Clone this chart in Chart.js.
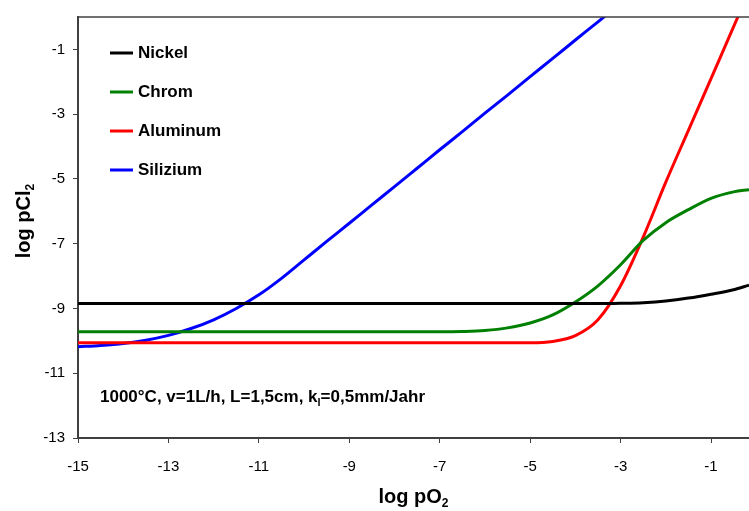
<!DOCTYPE html>
<html>
<head>
<meta charset="utf-8">
<script src="https://cdn.jsdelivr.net/npm/chart.js@4"></script>
<style>
  body { margin: 0; background: #fff; }
</style>
</head>
<body>
<canvas id="chart" width="749" height="511"></canvas>
<script>
// log pO2 sample points
const logPO2 = [-15, -14.5, -14, -13.5, -13, -12.5, -12, -11.5, -11, -10.5, -10, -9.5, -9, -8.5, -8, -7.5,
                -7, -6.5, -6, -5.5, -5, -4.5, -4, -3.5, -3, -2.5, -2, -1.5, -1, -0.5, -0.16];

// log pCl2 per metal
const nickel = [-8.85, -8.85, -8.85, -8.85, -8.85, -8.85, -8.85, -8.85, -8.85, -8.85, -8.85, -8.85, -8.85, -8.85, -8.85, -8.85,
                -8.85, -8.85, -8.85, -8.85, -8.85, -8.85, -8.85, -8.85, -8.84, -8.82, -8.77, -8.68, -8.56, -8.42, -8.28];
const chrom = [-9.72, -9.72, -9.72, -9.72, -9.72, -9.72, -9.72, -9.72, -9.72, -9.72, -9.72, -9.72, -9.72, -9.72, -9.72, -9.72,
               -9.72, -9.71, -9.68, -9.6, -9.45, -9.2, -8.8, -8.3, -7.65, -6.9, -6.35, -5.95, -5.6, -5.4, -5.33];
const aluminum = [-10.06, -10.06, -10.06, -10.06, -10.06, -10.06, -10.06, -10.06, -10.06, -10.06, -10.06, -10.06, -10.06, -10.06, -10.06, -10.06,
                  -10.06, -10.06, -10.06, -10.06, -10.06, -10.02, -9.84, -9.35, -8.3, -6.8, -5.1, -3.5, -1.9, -0.3, 0.8];
const silizium = [-10.18, -10.14, -10.08, -9.98, -9.83, -9.62, -9.35, -9.0, -8.58, -8.07, -7.5, -6.93, -6.37, -5.8, -5.24, -4.67,
                  -4.1, -3.54, -2.97, -2.41, -1.84, -1.28, -0.71, -0.15, 0.42, null, null, null, null, null, null];

const seriesNames = ['Nickel', 'Chrom', 'Aluminum', 'Silizium'];
const seriesColors = ['#000000', '#008000', '#ff0000', '#0000ff'];
const seriesValues = [nickel, chrom, aluminum, silizium];

const xTicks = [-15, -13, -11, -9, -7, -5, -3, -1];
const yTicks = [-13, -11, -9, -7, -5, -3, -1];

const FONT = '"Liberation Sans", Arial, sans-serif';
const AXIS_COLOR = '#404040';

// text with a trailing subscript, e.g. pO2
function textWidth(ctx, main, sub, size) {
    ctx.font = 'bold ' + size + 'px ' + FONT;
    let w = ctx.measureText(main).width;
    ctx.font = 'bold ' + Math.round(size * 0.62) + 'px ' + FONT;
    return w + ctx.measureText(sub).width;
}
function drawSubText(ctx, main, sub, x, y, size, rest) {
    ctx.textAlign = 'left';
    ctx.textBaseline = 'alphabetic';
    ctx.font = 'bold ' + size + 'px ' + FONT;
    ctx.fillText(main, x, y);
    x += ctx.measureText(main).width;
    ctx.font = 'bold ' + Math.round(size * 0.62) + 'px ' + FONT;
    ctx.fillText(sub, x, y + size * 0.22);
    x += ctx.measureText(sub).width;
    if (rest) {
        ctx.font = 'bold ' + size + 'px ' + FONT;
        ctx.fillText(rest, x, y);
    }
}

const decorations = {
    id: 'decorations',
    afterDraw(chart) {
        const ctx = chart.ctx;
        const area = chart.chartArea;
        ctx.save();

        // top frame line
        ctx.strokeStyle = AXIS_COLOR;
        ctx.lineWidth = 1.5;
        ctx.beginPath();
        ctx.moveTo(area.left, area.top);
        ctx.lineTo(area.right, area.top);
        ctx.stroke();

        ctx.fillStyle = '#000';

        // legend
        seriesNames.forEach((name, i) => {
            const y = 53 + i * 39;
            ctx.strokeStyle = seriesColors[i];
            ctx.lineWidth = 3;
            ctx.beginPath();
            ctx.moveTo(110, y);
            ctx.lineTo(133, y);
            ctx.stroke();
            ctx.font = 'bold 17px ' + FONT;
            ctx.textAlign = 'left';
            ctx.textBaseline = 'middle';
            ctx.fillText(name, 138, y);
        });

        // conditions
        drawSubText(ctx, '1000°C, v=1L/h, L=1,5cm, k', 'l', 100, 402, 17, '=0,5mm/Jahr');

        // x title
        const xw = textWidth(ctx, 'log pO', '2', 20);
        drawSubText(ctx, 'log pO', '2', (area.left + area.right) / 2 - xw / 2, 503, 20);

        // y title
        const yw = textWidth(ctx, 'log pCl', '2', 20);
        ctx.translate(30, 221);
        ctx.rotate(-Math.PI / 2);
        drawSubText(ctx, 'log pCl', '2', -yw / 2, 0, 20);

        ctx.restore();
    }
};

new Chart(document.getElementById('chart'), {
    type: 'line',
    data: {
        datasets: seriesValues.map((vals, i) => ({
            label: seriesNames[i],
            data: logPO2.map((x, j) => ({ x: x, y: vals[j] })),
            borderColor: seriesColors[i],
            borderWidth: 3,
            pointRadius: 0,
            fill: false,
            cubicInterpolationMode: 'monotone',
            spanGaps: false
        }))
    },
    options: {
        responsive: false,
        animation: false,
        devicePixelRatio: 1,
        layout: { padding: { top: 14, right: 0, left: 0, bottom: 0 } },
        plugins: {
            legend: { display: false },
            tooltip: { enabled: false }
        },
        scales: {
            x: {
                type: 'linear',
                min: -15,
                max: -0.16,
                afterBuildTicks: s => { s.ticks = xTicks.map(v => ({ value: v })); },
                afterFit: s => { s.height = 73; },
                grid: { drawOnChartArea: false, tickLength: 5, color: AXIS_COLOR, lineWidth: 1 },
                border: { color: AXIS_COLOR, width: 2 },
                ticks: { color: '#000', font: { family: FONT, size: 15 }, padding: 15, maxRotation: 0, autoSkip: false }
            },
            y: {
                type: 'linear',
                min: -13,
                max: 0,
                afterBuildTicks: s => { s.ticks = yTicks.map(v => ({ value: v })); },
                afterFit: s => { s.width = 78; },
                grid: { drawOnChartArea: false, tickLength: 5, color: AXIS_COLOR, lineWidth: 1 },
                border: { color: AXIS_COLOR, width: 2 },
                ticks: { color: '#000', font: { family: FONT, size: 15 }, padding: 8, autoSkip: false }
            }
        }
    },
    plugins: [decorations]
});
</script>
</body>
</html>
